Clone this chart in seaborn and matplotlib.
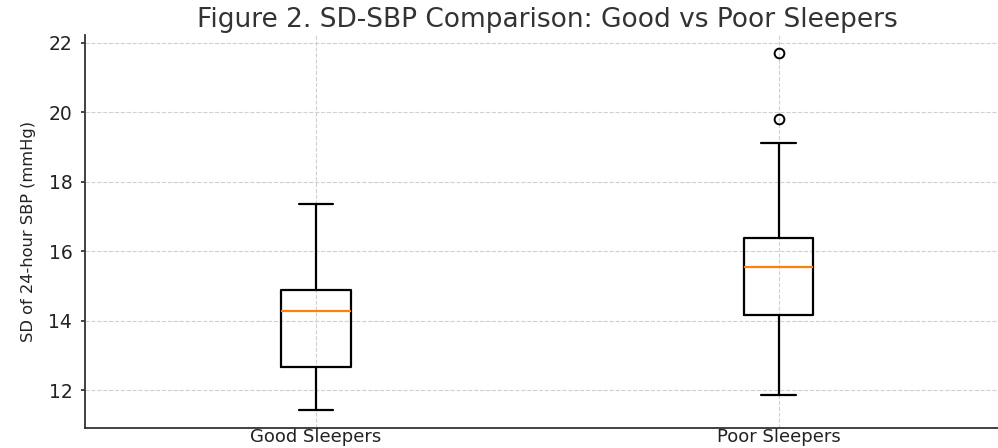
import matplotlib
matplotlib.use("Agg")
import matplotlib.pyplot as plt
import pandas as pd
import seaborn as sns

groups = ["Good Sleepers", "Poor Sleepers"]
# values; repeats pin the quartiles to the drawn box edges
good_sd = [11.42, 12.66, 14.28, 14.88, 17.36]
poor_sd = [11.86, 14.16, 14.16, 14.16, 15.54, 15.54, 15.54, 15.54, 15.54,
           16.38, 19.12, 19.81, 21.71]

df = pd.DataFrame({
    "group": [groups[0]] * len(good_sd) + [groups[1]] * len(poor_sd),
    "sd": good_sd + poor_sd,
})

sns.set_theme(style="whitegrid")
plt.rcParams["font.family"] = ["DejaVu Sans"]

fig = plt.figure(figsize=(9.98, 4.48), dpi=100)
ax = fig.add_axes([0.085, 0.0446, 0.927, 0.877])

sns.boxplot(data=df, x="group", y="sd", ax=ax, width=0.15, fill=False,
            color="black", linewidth=1.6,
            medianprops={"color": "#ff7f0e", "linewidth": 1.6},
            flierprops={"marker": "o", "markersize": 7,
                        "markerfacecolor": "none",
                        "markeredgecolor": "black",
                        "markeredgewidth": 1.4})

ax.set_xlim(-0.5, 1.5)
ax.set_yticks([12, 14, 16, 18, 20, 22])
ax.grid(True, axis="both", linestyle="--", color="#d0d0d0", linewidth=0.8)
ax.set_axisbelow(True)
for side in ["top", "right"]:
    ax.spines[side].set_visible(False)
for side in ["left", "bottom"]:
    ax.spines[side].set_color("#333333")
    ax.spines[side].set_linewidth(1.3)
ax.tick_params(axis="y", left=True, length=3, color="#333333",
               labelsize=13.5, labelcolor="#222222", pad=6)
ax.tick_params(axis="x", bottom=False, length=0, labelsize=13,
               labelcolor="#222222", pad=0)

ax.set_xlabel("")
ax.set_ylabel("SD of 24-hour SBP (mmHg)", fontsize=11.7, color="#222222",
              labelpad=9)
fig.text(0.548, 0.955, "Figure 2. SD-SBP Comparison: Good vs Poor Sleepers",
         ha="center", va="center", fontsize=19, color="#333333")

fig.savefig("out.png", dpi=100)
